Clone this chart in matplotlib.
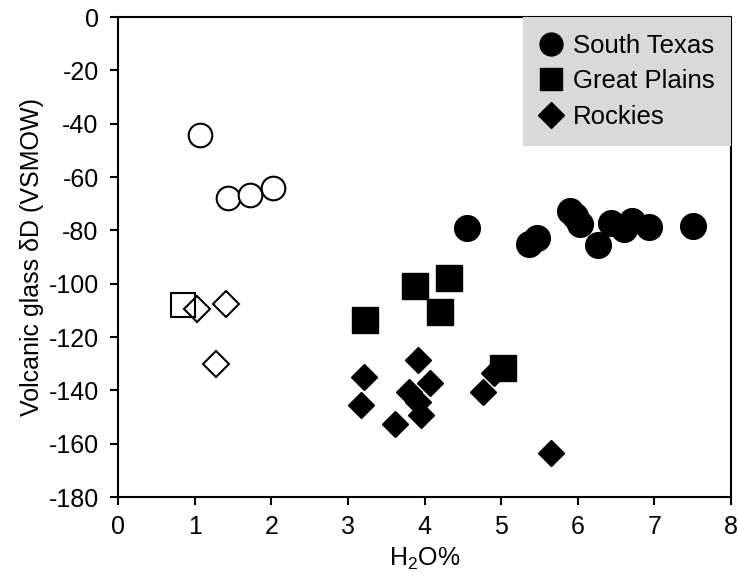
import matplotlib
matplotlib.use("Agg")
import matplotlib.pyplot as plt
from matplotlib.lines import Line2D

plt.rcParams['font.family'] = ['Liberation Sans', 'DejaVu Sans']
plt.rcParams['axes.unicode_minus'] = False
plt.rcParams['mathtext.fontset'] = 'custom'
plt.rcParams['mathtext.rm'] = 'Liberation Sans'
plt.rcParams['mathtext.it'] = 'Liberation Sans:italic'

# filled symbols
texas_x = [4.55, 5.36, 5.47, 5.90, 5.97, 6.03, 6.27, 6.44, 6.61, 6.71, 6.93, 7.51]
texas_y = [-79.1, -85.1, -83.0, -72.7, -74.5, -77.5, -85.5, -77.3, -79.5, -76.5, -78.7, -78.4]
plains_x = [3.22, 3.87, 4.20, 4.32, 5.02]
plains_y = [-113.6, -101.0, -110.6, -98.0, -131.6]
rockies_x = [3.21, 3.17, 3.61, 3.91, 3.80, 4.07, 3.91, 3.96, 4.76, 4.91, 5.65]
rockies_y = [-135.0, -145.5, -152.6, -128.6, -140.6, -137.2, -144.4, -149.3, -140.6, -133.5, -163.5]

# open symbols
texas_open_x = [1.07, 1.43, 1.72, 2.02]
texas_open_y = [-44.2, -67.9, -66.7, -64.1]
plains_open_x = [0.85]
plains_open_y = [-108.0]
rockies_open_x = [1.03, 1.41, 1.28]
rockies_open_y = [-109.5, -107.6, -130.0]

fig = plt.figure(figsize=(7.38, 5.79), dpi=100)
ax = fig.add_axes([0.160, 0.1416, 0.8305, 0.829])

ax.plot(texas_x, texas_y, 'o', color='black', ms=18.5, ls='none')
ax.plot(plains_x, plains_y, 's', color='black', ms=18.5, ls='none')
ax.plot(rockies_x, rockies_y, 'D', color='black', ms=13.5, ls='none')

ax.plot(texas_open_x, texas_open_y, 'o', mfc='white', mec='black', mew=1.5, ms=17, ls='none')
ax.plot(plains_open_x, plains_open_y, 's', mfc='none', mec='black', mew=1.5, ms=17.5, ls='none')
ax.plot(rockies_open_x, rockies_open_y, 'D', mfc='none', mec='black', mew=1.5, ms=13, ls='none')

ax.set_xlim(0, 8)
ax.set_ylim(-180, 0)
ax.set_xticks(range(0, 9))
ax.set_yticks(range(-180, 1, 20))
for s in ax.spines.values():
    s.set_linewidth(1.5)
ax.tick_params(direction='out', length=6, width=1.5, labelsize=18)
ax.tick_params(axis='y', pad=8)
ax.tick_params(axis='x', pad=7)

ax.set_xlabel(r'$\mathregular{H_2O}$%', fontsize=18, labelpad=5)
ax.set_ylabel('Volcanic glass δD (VSMOW)', fontsize=18, labelpad=3)

handles = [
    Line2D([], [], marker='o', color='black', ls='none', ms=16.5),
    Line2D([], [], marker='s', color='black', ls='none', ms=16),
    Line2D([], [], marker='D', color='black', ls='none', ms=13),
]
leg = ax.legend(handles, ['South Texas', 'Great Plains', 'Rockies'],
                loc='upper right', borderaxespad=0, fontsize=18.5,
                frameon=True, fancybox=False, framealpha=1,
                facecolor='#d9d9d9', edgecolor='none',
                handlelength=0.9, handletextpad=0.4, labelspacing=0.45,
                borderpad=0.65)

fig.savefig('out.png', dpi=100)
